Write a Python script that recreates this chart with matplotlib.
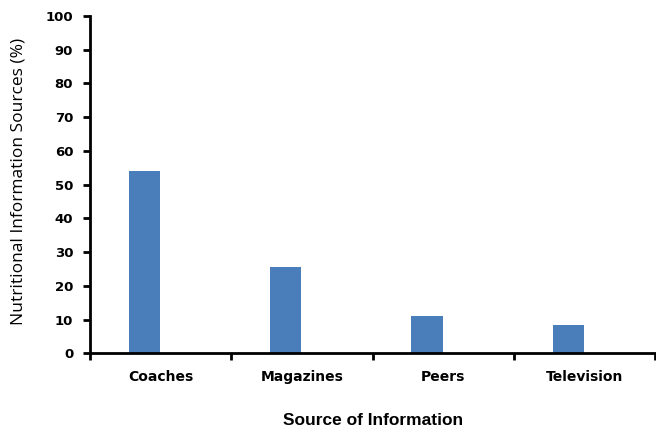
import numpy as np
import matplotlib
matplotlib.use("Agg")
from matplotlib import pyplot as plt

plt.rcParams['font.family'] = ['DejaVu Sans']

sources = ['Coaches', 'Magazines', 'Peers', 'Television']
percent = [54.1, 25.5, 11.1, 8.4]
y_ticks = list(range(0, 101, 10))

fig = plt.figure(figsize=(6.56, 4.32), dpi=100)
ax = fig.add_axes([0.137, 0.182, 0.862, 0.781])

x = np.arange(len(sources))
w = 0.22
ax.bar(x - w / 2 - 0.005, percent, width=w, color='#4A7EBB')

ax.set_xlim(-0.5, len(sources) - 0.5)
ax.set_ylim(0, 100)
ax.set_yticks(y_ticks)
ax.set_yticklabels([str(v) for v in y_ticks], fontsize=9.5, fontweight='bold')
ax.set_xticks(x)
ax.set_xticklabels(sources, fontsize=10, fontweight='bold')
ax.set_xticks(np.arange(len(sources) + 1) - 0.5, minor=True)
ax.tick_params(axis='x', which='major', length=0, pad=12)
ax.tick_params(axis='x', which='minor', length=5, width=2, direction='out')
ax.tick_params(axis='y', length=5, width=2, direction='out', pad=7)

for s in ['top', 'right']:
    ax.spines[s].set_visible(False)
for s in ['left', 'bottom']:
    ax.spines[s].set_linewidth(2)

ax.set_xlabel('Source of Information', fontsize=12.5, fontweight='bold',
              family=['Liberation Sans', 'DejaVu Sans'], va='center')
ax.xaxis.set_label_coords(0.5, -0.198)
ax.set_ylabel('Nutritional Information Sources (%)', fontsize=12.5,
              family=['Open Sans', 'DejaVu Sans'], va='center')
ax.yaxis.set_label_coords(-0.1257, 0.51)

fig.savefig('out.png', dpi=100)
